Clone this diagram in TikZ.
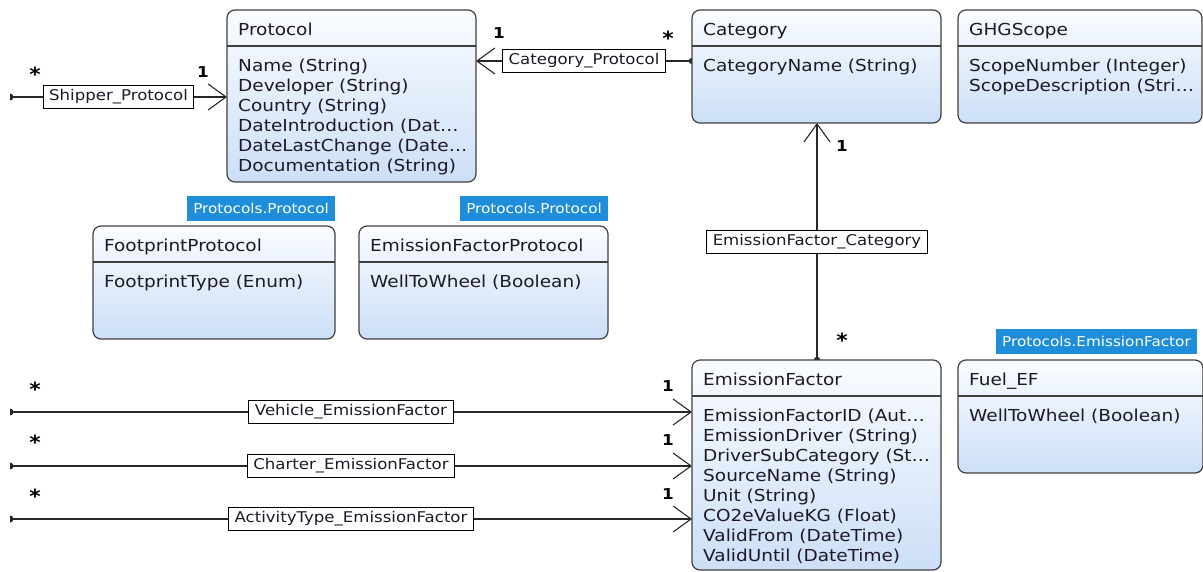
\documentclass[tikz,border=0pt]{standalone}
\usepackage{fontspec}
\setmainfont{DejaVu Sans}[FakeStretch=1.12]
\usetikzlibrary{arrows.meta,backgrounds,calc}
\definecolor{boxline}{RGB}{64,64,64}
\definecolor{boxtop}{RGB}{250,252,255}
\definecolor{boxbot}{RGB}{204,223,247}
\definecolor{txt}{RGB}{30,24,40}
\definecolor{tagblue}{RGB}{30,142,218}
\definecolor{conn}{RGB}{40,40,40}
\begin{document}
\begin{tikzpicture}[x=1pt,y=-1pt,
  cls/.style={draw=boxline, line width=1.2pt, rounded corners=8pt, top color=boxtop, bottom color=boxbot, anchor=north west, inner sep=0pt, outer sep=0pt},
  hdr/.style={draw=boxline, line width=1.2pt},
  ttl/.style={anchor=base west, inner sep=0pt, text=txt, font=\fontsize{16.5}{20}\selectfont},
  attr/.style={anchor=north west, inner sep=0pt, align=left, text=txt, font=\fontsize{16.5}{20}\selectfont},
  tagbox/.style={fill=tagblue, text=white, anchor=south east, inner xsep=6pt, minimum height=25pt, font=\fontsize{13.6}{16}\selectfont},
  assoc/.style={draw=conn, line width=1.3pt},
  barb/.style={-{Straight Barb[length=18pt,width=26pt,line width=1.1pt]}},
  lbl/.style={draw=black, line width=1pt, fill=white, inner xsep=6pt, inner ysep=0pt, minimum height=23pt, text=txt, font=\fontsize{14.8}{16}\selectfont},
  mult/.style={inner sep=0pt, text=black, font=\bfseries\fontsize{15}{17}\selectfont},
  star/.style={inner sep=0pt, text=black, font=\bfseries\fontsize{19.5}{21}\selectfont},
]
\useasboundingbox (0,0) rectangle (1203,571);

% ---------- classes ----------
\node[cls, minimum width=249pt, minimum height=172pt] (protocol) at (227,10) {};
\node[cls, minimum width=249pt, minimum height=113pt] (category) at (692,10) {};
\node[cls, minimum width=244pt, minimum height=113pt] (ghg) at (958,10) {};
\node[cls, minimum width=242pt, minimum height=113pt] (fp) at (93,226) {};
\node[cls, minimum width=249pt, minimum height=113pt] (efp) at (359,226) {};
\node[cls, minimum width=249pt, minimum height=210pt] (ef) at (692,360) {};
\node[cls, minimum width=245pt, minimum height=113pt] (fuel) at (958,360) {};

\foreach \b in {protocol,category,ghg,fp,efp,ef,fuel}{
  \draw[hdr] ([yshift=-36pt]\b.north west) -- ([yshift=-36pt]\b.north east);
}

\node[ttl] (protocolT) at ([xshift=11pt,yshift=-25pt]protocol.north west) {Protocol};
\node[attr] (protocolA) at ([xshift=11pt,yshift=-49pt]protocol.north west)
  {Name (String)\\Developer (String)\\Country (String)\\DateIntroduction (Dat…\\DateLastChange (Date…\\Documentation (String)};

\node[ttl] (categoryT) at ([xshift=11pt,yshift=-25pt]category.north west) {Category};
\node[attr] (categoryA) at ([xshift=11pt,yshift=-49pt]category.north west) {CategoryName (String)};

\node[ttl] (ghgT) at ([xshift=11pt,yshift=-25pt]ghg.north west) {GHGScope};
\node[attr] (ghgA) at ([xshift=11pt,yshift=-49pt]ghg.north west) {ScopeNumber (Integer)\\ScopeDescription (Stri…};

\node[ttl] (fpT) at ([xshift=11pt,yshift=-25pt]fp.north west) {FootprintProtocol};
\node[attr] (fpA) at ([xshift=11pt,yshift=-49pt]fp.north west) {FootprintType (Enum)};

\node[ttl] (efpT) at ([xshift=11pt,yshift=-25pt]efp.north west) {EmissionFactorProtocol};
\node[attr] (efpA) at ([xshift=11pt,yshift=-49pt]efp.north west) {WellToWheel (Boolean)};

\node[ttl] (efT) at ([xshift=11pt,yshift=-25pt]ef.north west) {EmissionFactor};
\node[attr] (efA) at ([xshift=11pt,yshift=-49pt]ef.north west)
  {EmissionFactorID (Aut…\\EmissionDriver (String)\\DriverSubCategory (St…\\SourceName (String)\\Unit (String)\\CO2eValueKG (Float)\\ValidFrom (DateTime)\\ValidUntil (DateTime)};

\node[ttl] (fuelT) at ([xshift=11pt,yshift=-25pt]fuel.north west) {Fuel\_EF};
\node[attr] (fuelA) at ([xshift=11pt,yshift=-49pt]fuel.north west) {WellToWheel (Boolean)};

% ---------- tags ----------
\node[tagbox] (fpTag) at ([yshift=5pt]fp.north east) {Protocols.Protocol};
\node[tagbox] (efpTag) at ([yshift=5pt]efp.north east) {Protocols.Protocol};
\node[tagbox, anchor=south west] (fuelTag) at ([xshift=38pt,yshift=6pt]fuel.north west) {Protocols.EmissionFactor};

% ---------- connectors ----------
\coordinate (shipS) at (10,97);
\coordinate (catS) at (category.west |- 0,61);
\coordinate (efS) at (ef.north -| 817,0);
\coordinate (vehS) at (10,412);
\coordinate (chaS) at (10,466);
\coordinate (actS) at (10,519);

\begin{scope}[on background layer]
  \draw[assoc, barb] (shipS) -- (shipS -| protocol.west) node[midway, lbl] (shipL) {Shipper\_Protocol};
  \draw[assoc, barb] (catS) -- (catS -| protocol.east) node[midway, lbl] (catL) {Category\_Protocol};
  \draw[assoc, barb] (efS) -- (efS |- category.south) node[midway, lbl] (efcL) {EmissionFactor\_Category};
  \draw[assoc, barb] (vehS) -- (vehS -| ef.west) node[midway, lbl] (vehL) {Vehicle\_EmissionFactor};
  \draw[assoc, barb] (chaS) -- (chaS -| ef.west) node[midway, lbl] (chaL) {Charter\_EmissionFactor};
  \draw[assoc, barb] (actS) -- (actS -| ef.west) node[midway, lbl] (actL) {ActivityType\_EmissionFactor};
  \fill[conn] (catS) circle (3.2pt);
  \fill[conn] (efS) circle (3.2pt);
\end{scope}
\foreach \c in {shipS,vehS,chaS,actS}{
  \fill[conn] ([yshift=3.5pt]\c) arc[start angle=90, end angle=-90, radius=3.5pt] -- cycle;
}

% ---------- multiplicities ----------
\node[star] (shipM1) at (35,74) {*};
\node[mult] (shipM2) at (203,72) {1};
\node[mult] (catM1) at (499,33) {1};
\node[star] (catM2) at (668,38) {*};
\node[mult] (efcM1) at (842,146) {1};
\node[star] (efcM2) at (842,340) {*};
\node[star] (vehM1) at (35,389) {*};
\node[mult] (vehM2) at (668,386) {1};
\node[star] (chaM1) at (35,442) {*};
\node[mult] (chaM2) at (668,440) {1};
\node[star] (actM1) at (35,496) {*};
\node[mult] (actM2) at (668,494) {1};
\end{tikzpicture}
\end{document}
